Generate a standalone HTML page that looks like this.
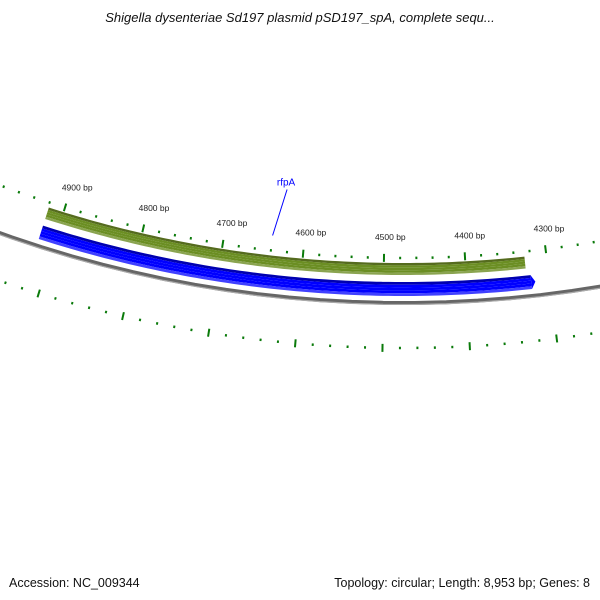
<!DOCTYPE html>
<html><head><meta charset="utf-8"><style>
body{margin:0;background:#fff;}
svg{display:block;font-family:"Liberation Sans",sans-serif;}
</style></head><body>
<svg id="map" width="600" height="600" viewBox="0 0 600 600">
<defs>
<linearGradient id="gg" x1="0" y1="0" x2="0" y2="1"><stop offset="0" stop-color="#556b1e"/><stop offset="0.35" stop-color="#6b8e23"/><stop offset="0.8" stop-color="#6b8e23"/><stop offset="1" stop-color="#9ab060"/></linearGradient>
<linearGradient id="bg" x1="0" y1="0" x2="0" y2="1"><stop offset="0" stop-color="#0000a8"/><stop offset="0.3" stop-color="#0000ff"/><stop offset="0.8" stop-color="#0000ff"/><stop offset="1" stop-color="#5a5aff"/></linearGradient>
</defs>
<text x="300" y="22" text-anchor="middle" font-size="13" font-style="italic" fill="#111">Shigella dysenteriae Sd197 plasmid pSD197_spA, complete sequ...</text>
<g id="layer"></g>
<text x="9" y="587" font-size="12.5" fill="#111">Accession: NC_009344</text>
<text x="590" y="587" text-anchor="end" font-size="12.5" fill="#111">Topology: circular; Length: 8,953 bp; Genes: 8</text>
</svg>
<script>
const genomeLength = 8953;
const tickLabels = [4300, 4400, 4500, 4600, 4700, 4800, 4900];
const featureNames = ["green-feature", "rfpA"];
const featureStarts = [4327, 4322];
const featureEnds = [4919, 4919];
const labelGene = "rfpA";
const labelGeneBp = 4640;

const NS = "http://www.w3.org/2000/svg";
const cx = 403, cy = -896;
const layer = document.getElementById('layer');
function ang(bp){ return bp / genomeLength * 2 * Math.PI; }
function pt(bp, r){ const a = ang(bp); return [cx + r*Math.sin(a), cy - r*Math.cos(a)]; }
function mk(tag, attrs){ const e = document.createElementNS(NS, tag); for (const k in attrs) e.setAttribute(k, attrs[k]); layer.appendChild(e); return e; }
function arcPts(b1, b2, r){ const p=[]; const n=80; for(let i=0;i<=n;i++){ p.push(pt(b1+(b2-b1)*i/n, r)); } return p; }

// backbone
let bb = arcPts(3000, 6000, 1199).map(p=>p.join(',')).join(' ');
let bbl = mk('polyline', {points: bb, fill:'none', stroke:'#666', 'stroke-width':4});


let bbh = mk('polyline', {points: arcPts(3000,6000,1200.5).map(p=>p.join(',')).join(' '), fill:'none', stroke:'#aaa', 'stroke-width':1.2});



// tick rings
[1154, 1244].forEach((r, ri) => {
  for (let bp = 3500; bp <= 5600; bp += 20) {
    const major = bp % 100 === 0;
    const len = major ? 8 : 2.5;
    const a = pt(bp, r - len/2), b = pt(bp, r + len/2);
    const t = mk('line', {x1:a[0], y1:a[1], x2:b[0], y2:b[1], stroke:'#0a7a0a', 'stroke-width': 2});
    
    
  }
});
tickLabels.forEach(bp => {
  const p = pt(bp, 1133);
  const t = mk('text', {x:p[0]+6, y:p[1]+3, 'text-anchor':'middle', 'font-size':8.5, fill:'#222'});
  t.textContent = bp + ' bp';
  
  
});

// green feature band
function band(b1, b2, r1, r2, fill, name, arrow){
  const outer = arcPts(b1, b2, r1);
  const inner = arcPts(b1, b2, r2).reverse();
  let pts = outer.slice();
  if (arrow) { const tip = pt(b1 - 6, (r1+r2)/2); pts = arcPts(b1, b2, r1); pts.unshift(tip); }
  const all = pts.concat(inner).map(p=>p.join(',')).join(' ');
  const e = mk('polygon', {points: all, fill: fill});
  
  
}
// gradient workaround: draw layered strips
function layered(b1, b2, rTop, w, colors, name, arrow){
  const n = colors.length;
  for (let i=0;i<n;i++){
    band(b1, b2, rTop + w*i/n, rTop + w*(i+1)/n, colors[i], name + (i===0?'':'-layer-'+i), arrow && false);
  }
  if (arrow) {
    const tip = pt(b1 - 5, rTop + w/2), a = pt(b1, rTop), b = pt(b1, rTop + w);
    const e = mk('polygon', {points: [a, tip, b].map(p=>p.join(',')).join(' '), fill: colors[1]});
    
    
  }
}
layered(featureStarts[0], featureEnds[0], 1159, 12, ['#556b1e','#6b8e23','#6b8e23','#6b8e23','#8aa450'], featureNames[0], false);
layered(featureStarts[1], featureEnds[1], 1178, 14, ['#0000b0','#0000ff','#0000ff','#0000ff','#4040ff'], 'gene-' + featureNames[1], true);

// gene label
const lp1 = pt(labelGeneBp, 1139), lp2 = pt(labelGeneBp - 8, 1092);
const ll = mk('line', {x1:lp1[0], y1:lp1[1], x2:lp2[0]+3, y2:lp2[1], stroke:'#0000ff', 'stroke-width':1});


const lt = mk('text', {x:lp2[0]+2, y:lp2[1]-4, 'text-anchor':'middle', 'font-size':10, fill:'#0000ff'});
lt.textContent = labelGene;


</script>
</body></html>
